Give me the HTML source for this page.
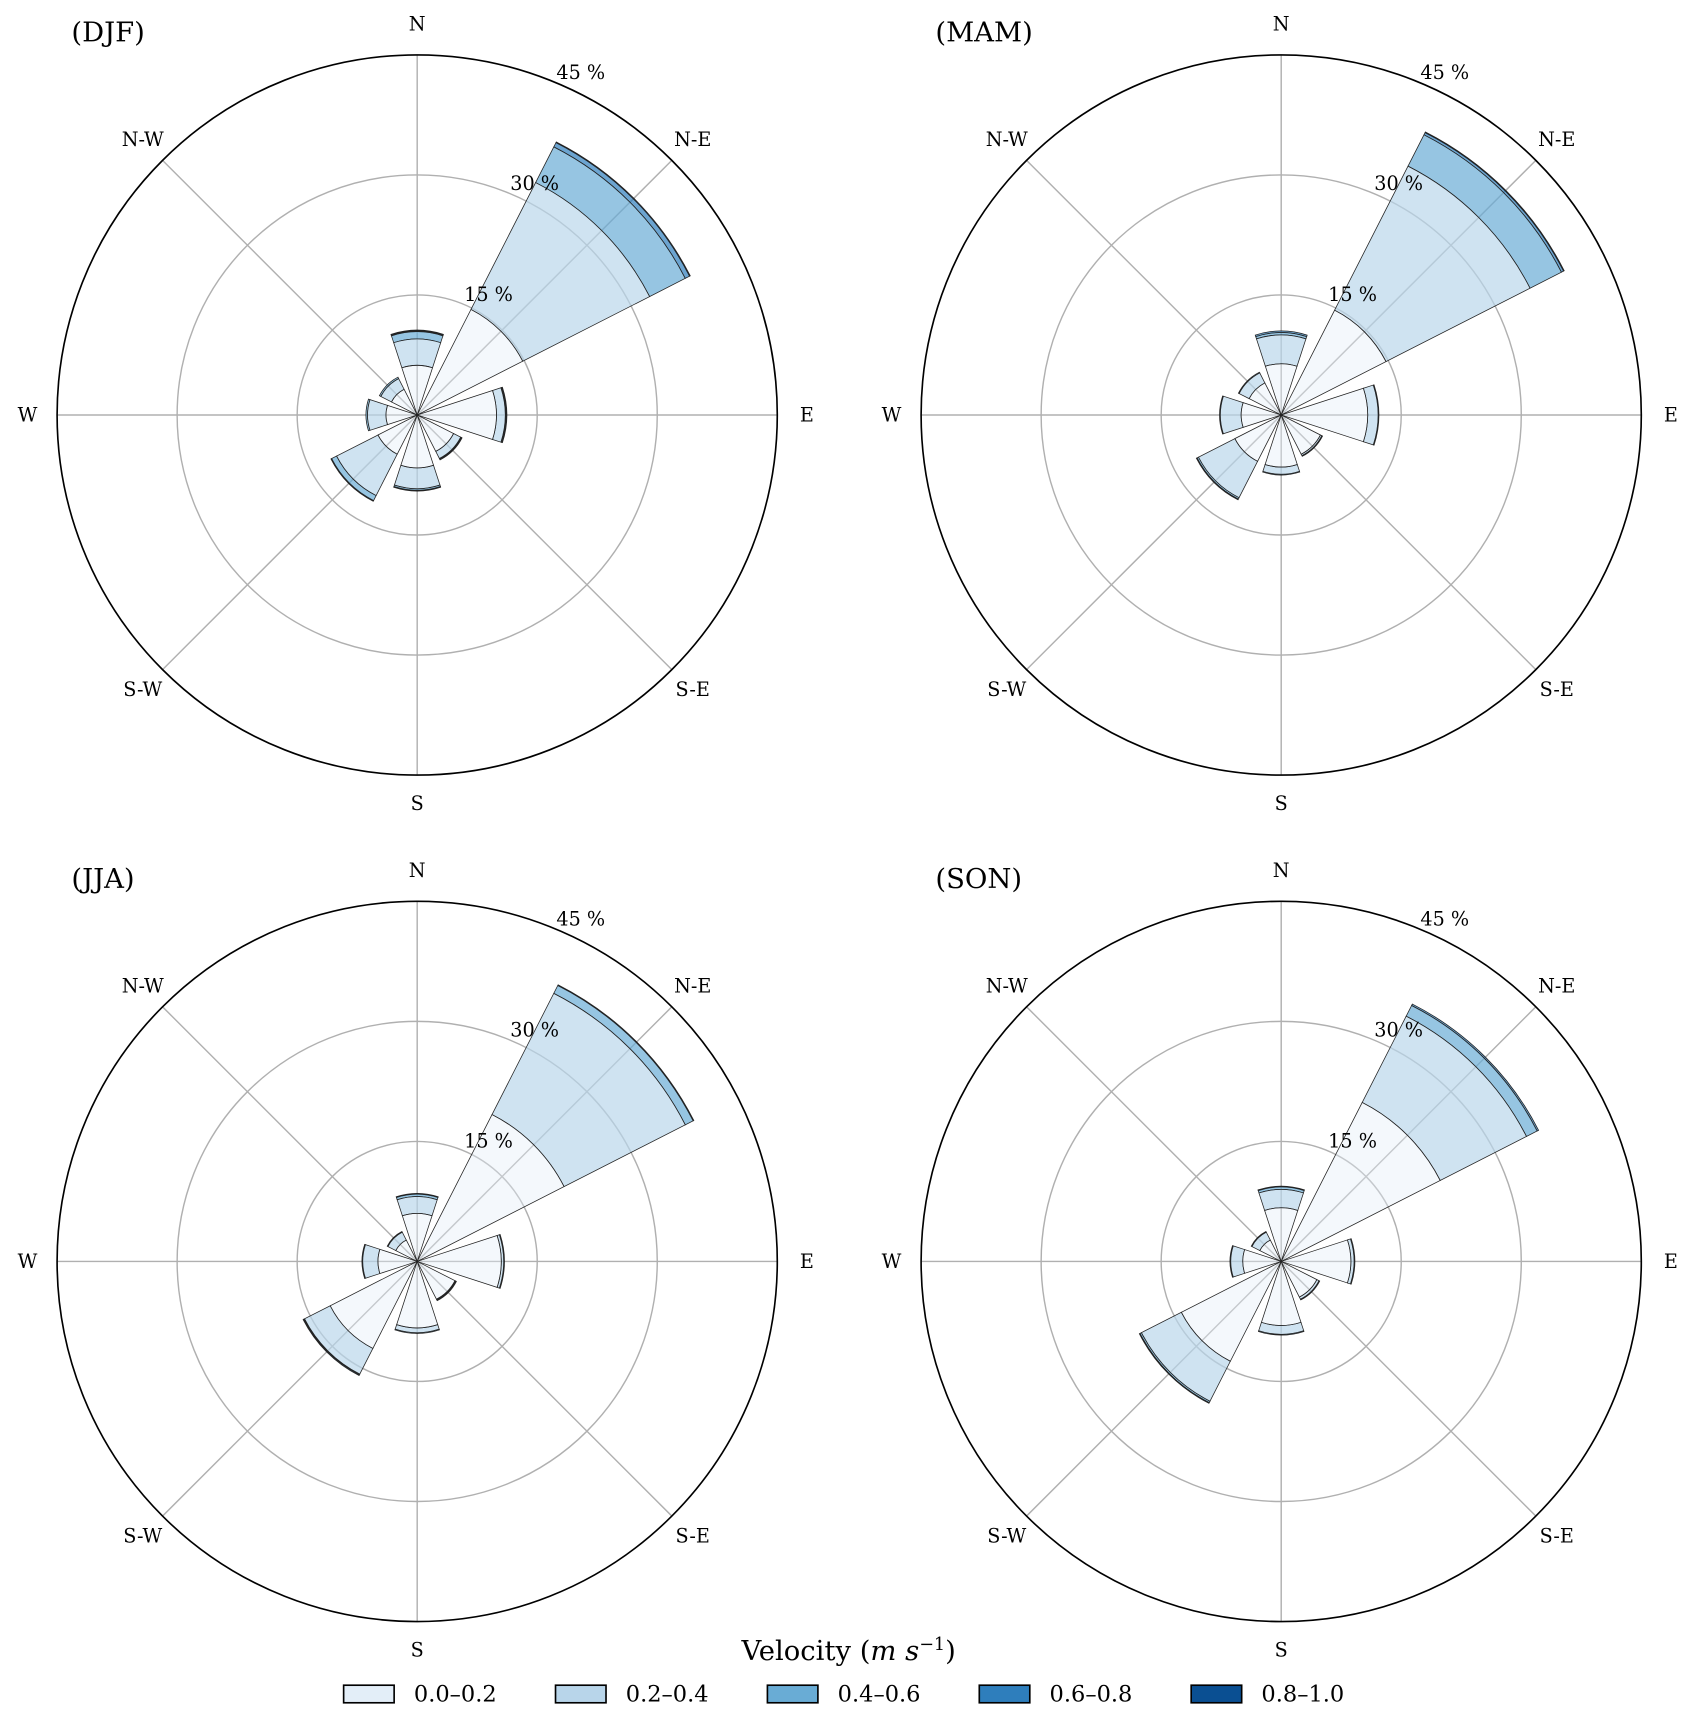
<!DOCTYPE html>
<html><head><meta charset="utf-8"><style>
html,body{margin:0;padding:0;background:#fff}
svg{display:block}
text{font-family:"DejaVu Serif","Liberation Serif",serif;fill:#000}
</style></head><body>
<svg id="chart" width="1694" height="1721" viewBox="0 0 1543 1567.6" xmlns="http://www.w3.org/2000/svg"></svg>
<script>
const seasons = ["DJF","MAM","JJA","SON"];
const directions = ["N","N-E","E","S-E","S","S-W","W","N-W"];
const speedBins = ["0.0–0.2","0.2–0.4","0.4–0.6","0.6–0.8","0.8–1.0"];
const radialTicks = [15,30,45];
const radialTickLabels = ["15 %","30 %","45 %"];
// cumulative frequency (%) per direction, per speed bin
const djf = [[6.2,9.5,10.4,10.5,10.6],[14.8,32.6,37.6,38.2,38.3],[9.9,11.0,11.1,11.2,11.2],[5.1,6.1,6.2,6.3,6.3],[6.6,9.2,9.4,9.5,9.5],[5.5,11.3,12.0,12.1,12.1],[3.9,6.2,6.4,6.4,6.4],[3.6,5.1,5.3,5.3,5.3]];
const mam = [[6.4,10.0,10.3,10.5,10.5],[14.7,34.9,39.3,39.6,39.7],[10.8,12.1,12.2,12.2,12.2],[5.5,5.7,5.8,5.8,5.8],[6.5,7.4,7.5,7.5,7.5],[6.5,11.6,11.8,11.9,11.9],[5.0,7.6,7.7,7.7,7.7],[4.5,5.9,6.0,6.0,6.0]];
const jja = [[6.0,8.1,8.4,8.5,8.5],[20.6,37.6,38.7,38.8,38.8],[10.5,10.8,10.9,10.9,10.9],[5.3,5.4,5.5,5.5,5.5],[8.3,8.9,9.0,9.0,9.0],[12.2,15.8,15.9,16.0,16.0],[4.9,6.8,6.9,6.9,6.9],[3.0,4.1,4.2,4.2,4.2]];
const son = [[6.7,9.0,9.3,9.4,9.4],[22.3,34.4,35.9,36.1,36.1],[8.7,9.1,9.2,9.2,9.2],[5.0,5.3,5.4,5.4,5.4],[8.0,9.1,9.2,9.2,9.2],[14.0,19.6,19.8,19.9,19.9],[4.8,6.3,6.4,6.4,6.4],[3.0,4.1,4.2,4.2,4.2]];
const seasonData = [djf,mam,jja,son];

const NS="http://www.w3.org/2000/svg";
const svg=document.getElementById('chart');
const colors=["#e3eef8","#b8d5ea","#69acd5","#2e7ebc","#0a4f92"];
const opac=[0.4,0.68,0.7,0.7,0.7];
const centers=[[380,378],[1167,378],[380,1149],[1167,1149]];
const R=328, RMAX=45;
function rs(v){return v/RMAX*R;}
function mk(tag,attrs,parent){const e=document.createElementNS(NS,tag);for(const k in attrs)e.setAttribute(k,attrs[k]);(parent||svg).appendChild(e);return e;}
function pt(cx,cy,r,deg){const a=deg*Math.PI/180;return [cx+r*Math.sin(a),cy-r*Math.cos(a)];}
function sector(cx,cy,r0,r1,a0,a1){
  const p1=pt(cx,cy,r1,a0),p2=pt(cx,cy,r1,a1),p3=pt(cx,cy,r0,a1),p4=pt(cx,cy,r0,a0);
  let d=`M${p4[0]},${p4[1]} L${p1[0]},${p1[1]} A${r1},${r1} 0 0 1 ${p2[0]},${p2[1]} L${p3[0]},${p3[1]}`;
  if(r0>0)d+=` A${r0},${r0} 0 0 0 ${p4[0]},${p4[1]}`;
  return d+'Z';
}
const labelOff=[[0,-356],[251,-251],[355,0],[251,250],[0,354],[-250,250],[-355,0],[-250,-251]];
const tickOff=[[65,-110],[107,-211],[149,-312]];
seasons.forEach((s,si)=>{
  const [cx,cy]=centers[si];
  const g=mk('g',{});
  
  
  radialTicks.slice(0,2).forEach(t=>{
    const c=mk('circle',{cx,cy,r:rs(t),fill:'none',stroke:'#b0b0b0','stroke-width':1.3},g);
    
    
  });
  directions.forEach((d,di)=>{
    const p=pt(cx,cy,R,di*45);
    const l=mk('line',{x1:cx,y1:cy,x2:p[0],y2:p[1],stroke:'#b0b0b0','stroke-width':1.3},g);
    
    
  });
  seasonData[si].forEach((vals,di)=>{
    const a=di*45;
    for(let k=speedBins.length-1;k>=0;k--){
      const r0=k?rs(vals[k-1]):0, r1=rs(vals[k]);
      if(r1-r0<0.01&&k>0) continue;
      const p=mk('path',{d:sector(cx,cy,r0,r1,a-18,a+18),fill:colors[k],'fill-opacity':opac[k],stroke:'#222','stroke-width':0.7},g);
      
      
    }
  });
  const oc=mk('circle',{cx,cy,r:R,fill:'none',stroke:'#000','stroke-width':1.5},g);
  
  
  directions.forEach((d,di)=>{
    const t=mk('text',{x:cx+labelOff[di][0],y:cy+labelOff[di][1]+6,'text-anchor':'middle','font-size':17.5},g);
    t.textContent=d;
    
    
  });
  radialTickLabels.forEach((lab,i)=>{
    const t=mk('text',{x:cx+tickOff[i][0],y:cy+tickOff[i][1]+6,'text-anchor':'middle','font-size':17.5},g);
    t.textContent=lab;
    
    
  });
  const tt=mk('text',{x:cx-315,y:cy-340,'font-size':25},g);
  tt.textContent='('+s+')';
  
  
});
const lg=mk('g',{});


const lt=mk('text',{x:773,y:1512,'text-anchor':'middle','font-size':25},lg);
lt.innerHTML='Velocity (<tspan font-style="italic">m s</tspan><tspan dy="-9" font-size="16">−1</tspan><tspan dy="9">)</tspan>';


speedBins.forEach((b,i)=>{
  const x=313+i*193;
  const r=mk('rect',{x,y:1535,width:46,height:16,fill:colors[i],stroke:'#000','stroke-width':1.5},lg);
  
  
  const t=mk('text',{x:x+64,y:1550,'font-size':20.5},lg);
  t.textContent=b;
  
  
});
</script>
</body></html>
